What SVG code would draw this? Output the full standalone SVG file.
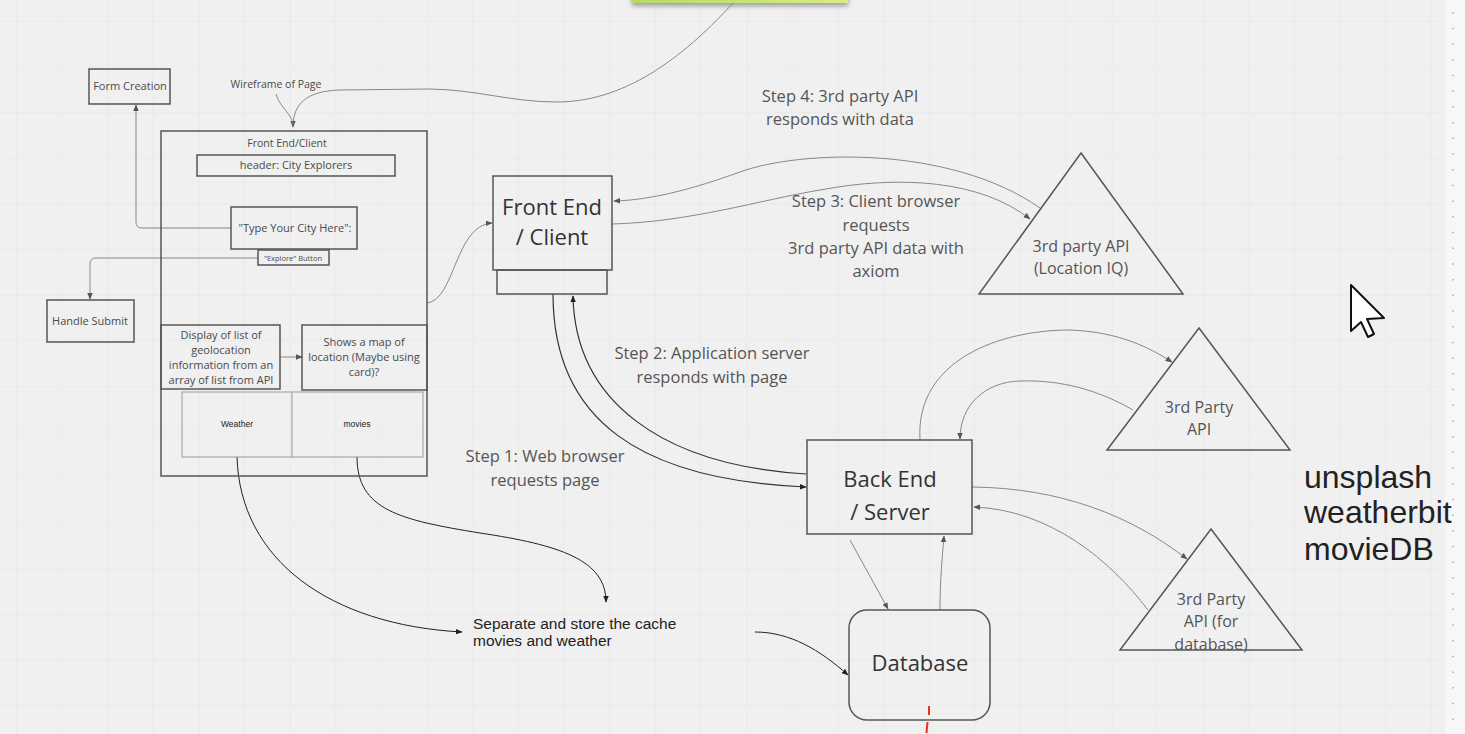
<svg xmlns="http://www.w3.org/2000/svg" width="1465" height="734" viewBox="0 0 1465 734">
<style>
.box{fill:none;stroke:#555;stroke-width:1.5}
.lbox{fill:none;stroke:#999;stroke-width:1}
.t{font-family:"Open Sans","Liberation Sans",sans-serif;fill:#4a4a4a;text-anchor:middle}
.s{font-size:11px}
.big{font-size:22px;fill:#333}
.step{font-size:16.5px;fill:#555}
.tri{font-size:16px;fill:#555}
.a{font-family:"Liberation Sans",Arial,sans-serif;fill:#222}
.cg{fill:none;stroke:#888;stroke-width:1}
.cd{fill:none;stroke:#333;stroke-width:1.2}
.ck{fill:none;stroke:#222;stroke-width:1}
</style>
<defs>
<pattern id="grid" x="16" y="21" width="91.3" height="91.3" patternUnits="userSpaceOnUse">
<path d="M0 0V91.3M0 0H91.3" stroke="#e3e3e3" stroke-width="1" fill="none"/>
<path d="M45.65 0V91.3M0 45.65H91.3" stroke="#e9e9e9" stroke-width="1" fill="none"/>
</pattern>
<marker id="ag" viewBox="0 0 10 10" refX="9" refY="5" markerWidth="7" markerHeight="7" orient="auto" markerUnits="userSpaceOnUse"><path d="M0,1 L10,5 L0,9 z" fill="#555"/></marker>
<marker id="ak" viewBox="0 0 10 10" refX="9" refY="5" markerWidth="7" markerHeight="7" orient="auto" markerUnits="userSpaceOnUse"><path d="M0,1 L10,5 L0,9 z" fill="#222"/></marker>
<filter id="sh" x="-10%" y="-50%" width="120%" height="300%"><feDropShadow dx="0" dy="3" stdDeviation="2.5" flood-color="#000" flood-opacity="0.35"/></filter>
<linearGradient id="gn" x1="0" x2="1" y1="0" y2="0"><stop offset="0" stop-color="#b8d964"/><stop offset="1" stop-color="#d6ec8a"/></linearGradient>
</defs>
<rect width="1465" height="734" fill="#f0f0f0"/>
<rect width="1445" height="734" fill="url(#grid)"/>
<rect x="1445" y="0" width="20" height="734" fill="#f7f7f7"/>
<line x1="1453" y1="12" x2="1453" y2="734" stroke="#aaa" stroke-width="1.5" stroke-dasharray="1.5 14.2"/>
<rect x="632" y="-20" width="216" height="23" fill="url(#gn)" filter="url(#sh)"/>

<g id="connectors">
<path class="cg" d="M733 3 C690 50 630 102 557 102 C510 102 480 90 430 89 L340 90 C305 91 293 105 293 127" marker-end="url(#ag)"/>
<path class="cg" d="M276 94 C280 108 292 114 293 124"/>
<path class="cg" d="M231 228 H142 Q136 228 136 222 V105" marker-end="url(#ag)"/>
<path class="cg" d="M258 258 H96 Q90 258 90 264 V299" marker-end="url(#ag)"/>
<path class="cg" d="M280 357 H302" marker-end="url(#ag)"/>
<path class="cg" d="M427 303 C455 300 455 225 492 223" marker-end="url(#ag)"/>
<path class="cg" d="M1040 208 C950 145 800 150 740 172 C690 190 650 200 614 201" marker-end="url(#ag)"/>
<path class="cg" d="M612 224 C690 222 760 200 820 190 C900 175 980 180 1030 219" marker-end="url(#ag)"/>
<path class="cd" d="M553 294 C553 420 640 480 806 487" marker-end="url(#ak)"/>
<path class="cd" d="M806 474 C660 465 575 400 573 296" marker-end="url(#ak)"/>
<path class="cg" d="M920 440 C915 360 1000 330 1070 330 C1120 332 1150 348 1172 362" marker-end="url(#ag)"/>
<path class="cg" d="M1133 410 C1090 385 1050 380 1020 381 C985 382 960 405 960 439" marker-end="url(#ag)"/>
<path class="cg" d="M972 487 C1060 488 1130 515 1187 559" marker-end="url(#ag)"/>
<path class="cg" d="M1148 610 C1110 560 1050 510 974 507" marker-end="url(#ag)"/>
<path class="cg" d="M850 540 L888 609" marker-end="url(#ag)"/>
<path class="cg" d="M940 610 C940 580 942 560 944 536" marker-end="url(#ag)"/>
<path class="ck" d="M237 457 C240 560 330 625 462 632" marker-end="url(#ak)"/>
<path class="ck" d="M357 457 C357 510 400 520 480 533 C560 545 606 560 606 602" marker-end="url(#ak)"/>
<path class="ck" d="M755 632 C790 632 820 650 848 675" marker-end="url(#ak)"/>
</g>

<g id="form-creation">
<rect class="box" x="89" y="69" width="81" height="35"/>
<text class="t s" x="130" y="90">Form Creation</text>
</g>
<g id="wireframe-label">
<text class="t" font-size="10.5" x="276" y="88">Wireframe of Page</text>
</g>
<g id="wireframe">
<rect class="box" x="161" y="131" width="266" height="345"/>
<text class="t" font-size="10.5" x="287" y="147">Front End/Client</text>
</g>
<g id="header">
<rect class="box" x="197" y="155" width="198" height="21"/>
<text class="t s" x="296" y="169">header: City Explorers</text>
</g>
<g id="type-city">
<rect class="box" x="231" y="207" width="126" height="42"/>
<text class="t" x="295" y="232" font-size="11">"Type Your City Here":</text>
</g>
<g id="explore-button">
<rect class="box" x="258" y="250" width="71" height="15"/>
<text class="t" x="293" y="260.5" font-size="7.5">"Explore" Button</text>
</g>
<g id="handle-submit">
<rect class="box" x="47" y="300" width="87" height="42"/>
<text class="t s" x="90" y="325">Handle Submit</text>
</g>
<g id="display-list">
<rect class="box" x="161" y="325" width="119" height="64"/>
<text class="t s" x="221" y="339">Display of list of</text>
<text class="t s" x="221" y="354">geolocation</text>
<text class="t s" x="221" y="369">information from an</text>
<text class="t s" x="221" y="384">array of list from API</text>
</g>
<g id="map">
<rect class="box" x="302" y="325" width="125" height="65"/>
<text class="t s" x="364" y="346">Shows a map of</text>
<text class="t s" x="364" y="361">location (Maybe using</text>
<text class="t s" x="364" y="376">card)?</text>
</g>
<g id="weather-movies">
<rect class="lbox" x="182" y="392" width="241" height="65"/>
<line class="lbox" x1="292" y1="392" x2="292" y2="457"/>
<text class="a" x="237" y="427" font-size="8.5" text-anchor="middle">Weather</text>
<text class="a" x="357" y="427" font-size="8.5" text-anchor="middle">movies</text>
</g>

<g id="front-end">
<rect class="box" x="493" y="176" width="119" height="94"/>
<rect class="box" x="497" y="270" width="110" height="24"/>
<text class="t big" x="552" y="215">Front End</text>
<text class="t big" x="552" y="245">/ Client</text>
</g>
<g id="back-end">
<rect class="box" x="807" y="440" width="165" height="94"/>
<text class="t big" x="890" y="487">Back End</text>
<text class="t big" x="890" y="520">/ Server</text>
</g>
<g id="database">
<rect class="box" x="849" y="610" width="141" height="110" rx="18"/>
<text class="t big" x="920" y="671">Database</text>
</g>
<g id="api-location">
<polygon class="box" points="1081,153 1183,294 979,294"/>
<text class="t tri" x="1081" y="252">3rd party API</text>
<text class="t tri" x="1081" y="274">(Location IQ)</text>
</g>
<g id="api-third">
<polygon class="box" points="1199,328 1290,450 1107,450"/>
<text class="t tri" x="1199" y="413">3rd Party</text>
<text class="t tri" x="1199" y="435">API</text>
</g>
<g id="api-database">
<polygon class="box" points="1211,529 1302,650 1120,650"/>
<text class="t tri" x="1211" y="605">3rd Party</text>
<text class="t tri" x="1211" y="627">API (for</text>
<text class="t tri" x="1211" y="650">database)</text>
</g>

<g id="step-labels">
<text class="t step" x="840" y="102">Step 4: 3rd party API</text>
<text class="t step" x="840" y="125">responds with data</text>
<text class="t step" x="876" y="207">Step 3: Client browser</text>
<text class="t step" x="876" y="231">requests</text>
<text class="t step" x="876" y="254">3rd party API data with</text>
<text class="t step" x="876" y="277">axiom</text>
<text class="t step" x="712" y="359">Step 2: Application server</text>
<text class="t step" x="712" y="383">responds with page</text>
<text class="t step" x="545" y="462">Step 1: Web browser</text>
<text class="t step" x="545" y="486">requests page</text>
</g>
<g id="cache-note">
<text class="a" x="473" y="629" font-size="15.5">Separate and store the cache</text>
<text class="a" x="473" y="646" font-size="15.5">movies and weather</text>
</g>
<g id="api-list">
<text class="a" x="1304" y="488" font-size="32">unsplash</text>
<text class="a" x="1304" y="523" font-size="32">weatherbit</text>
<text class="a" x="1304" y="560" font-size="32">movieDB</text>
</g>
<g id="marks">
<line x1="929" y1="706" x2="929" y2="715" stroke="#e8321e" stroke-width="2"/>
<line x1="927.5" y1="722" x2="926.5" y2="733" stroke="#e8321e" stroke-width="2"/>
<polygon points="1351,285 1351,331 1361,322 1368,337 1374,334 1367,319 1384,318" fill="#fff" stroke="#111" stroke-width="2" stroke-linejoin="round"/>
</g>
</svg>
